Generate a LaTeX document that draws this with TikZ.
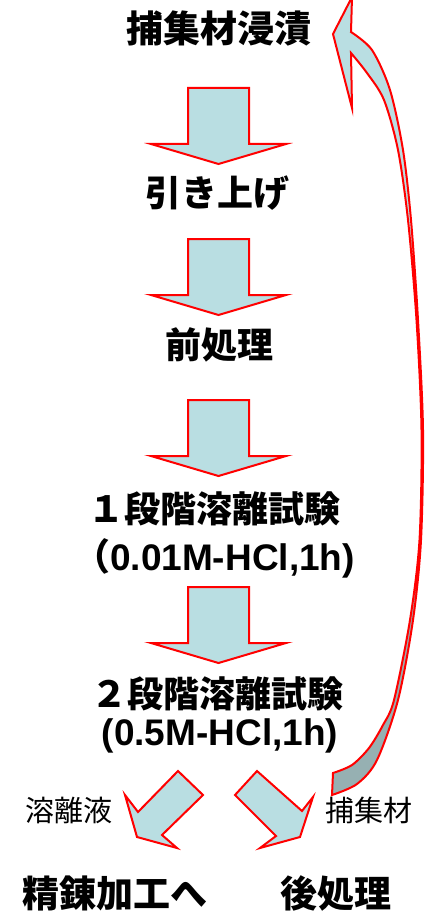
\documentclass[tikz,border=0pt]{standalone}
\usepackage{fontspec}
\setmainfont{Liberation Sans}
\newfontfamily\cjk{Noto Sans CJK JP}
\definecolor{abl}{RGB}{185,222,226}
\definecolor{agr}{RGB}{150,176,178}
\begin{document}
\begin{tikzpicture}[x=1pt,y=-1pt,
  blockarrow/.style={draw=red, line width=2pt, fill=abl},
  big/.style={font=\fontsize{36pt}{42pt}\selectfont\bfseries, inner sep=0pt},
  lat/.style={font=\fontsize{37pt}{42pt}\selectfont\bfseries, inner sep=0pt},
  small/.style={font=\fontsize{29pt}{34pt}\selectfont\cjk, inner sep=0pt},
  downarr/.pic={\draw[blockarrow] (-30.5,0) -- (30.5,0) -- (30.5,56) -- (67.5,56) -- (0,76) -- (-67.5,56) -- (-30.5,56) -- cycle;}]
\useasboundingbox (0,0) rectangle (426,912);
% texts
\node[big,font=\fontsize{37pt}{42pt}\selectfont\bfseries] (t1) at (219,28) {\cjk 捕集材浸漬};
\node[big] (t2) at (217,193) {\cjk 引き上げ};
\node[big] (t3) at (219,345) {\cjk 前処理};
\node[big] (t4) at (214.5,509) {\cjk １段階溶離試験};
\node[lat] (t4b) at (214,558) {{\cjk （}0.01M-HCl,1h)};
\node[big] (t5) at (217.5,694) {\cjk ２段階溶離試験};
\node[lat] (t5b) at (220,736) {(0.5M-HCl,1h)};
\node[small] (l1) at (69,810) {溶離液};
\node[small] (l2) at (369,810) {捕集材};
\node[big,font=\fontsize{37pt}{42pt}\selectfont\bfseries] (b1) at (115,893) {\cjk 精錬加工へ};
\node[big,font=\fontsize{37pt}{42pt}\selectfont\bfseries] (b2) at (336,893) {\cjk 後処理};
% down arrows
\pic at (218.5,88) {downarr};
\pic at (218.5,239) {downarr};
\pic at (218.5,400) {downarr};
\pic at (218.5,587) {downarr};
% diagonal arrows
\draw[blockarrow] (178,771) -- (203,795) -- (162,835) -- (177,848) -- (137,837) -- (125,795) -- (138,812) -- cycle;
\draw[blockarrow] (257,771) -- (235,795) -- (276,836) -- (260,848) -- (300,837) -- (313,797) -- (302,811) -- cycle;
% curved return arrow
\def\bandpath{(333,34) -- (352,-3) -- (351,32)
  -- plot[smooth] coordinates {(351,32) (372,50) (390,90) (403,150) (411,220) (418,320) (423,430) (421,540) (413,620) (398,700) (377,760) (357,784) (332,795)}
  -- (333,773)
  -- plot[smooth] coordinates {(333,773) (352,765) (369,748) (383,725) (394,700) (410,620) (419.5,540) (421.5,430) (416.5,320) (408,220) (398,150) (384,100) (367,73) (351,53)}
  -- (352,108) -- cycle}
\begin{scope}
  \clip (0,-10) rectangle (426,450);
  \fill[abl] \bandpath;
\end{scope}
\begin{scope}
  \clip (0,450) rectangle (426,912);
  \fill[agr] \bandpath;
\end{scope}
\draw[red, line width=2pt] \bandpath;
\end{tikzpicture}
\end{document}
